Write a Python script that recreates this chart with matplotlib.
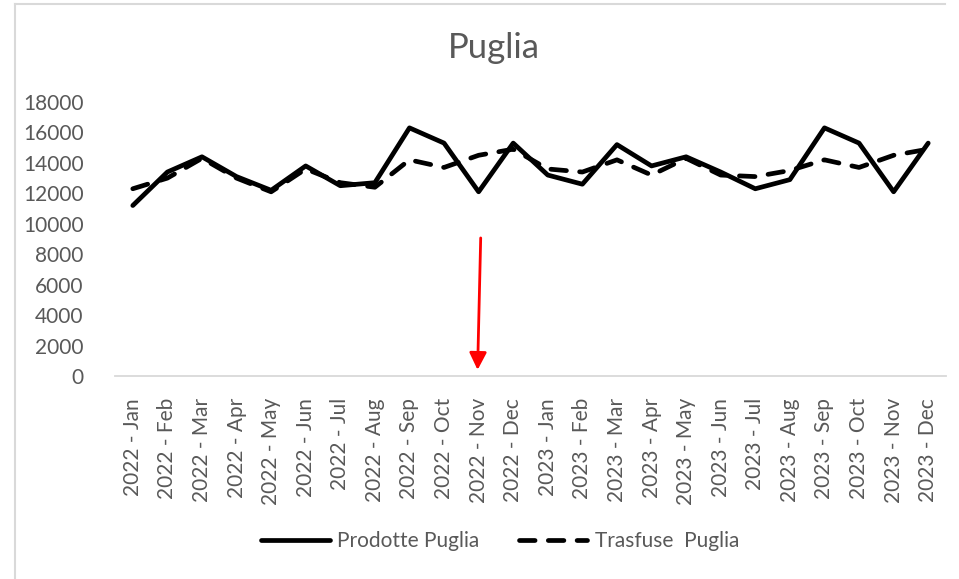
import matplotlib
matplotlib.use("Agg")
import matplotlib.pyplot as plt
from matplotlib.lines import Line2D

plt.rcParams['font.family'] = ['Lato', 'DejaVu Sans']

months = ["Jan", "Feb", "Mar", "Apr", "May", "Jun", "Jul", "Aug", "Sep", "Oct", "Nov", "Dec"]
categories = [f"{y} - {m}" for y in (2022, 2023) for m in months]

prodotte = [11200, 13400, 14400, 13100, 12200, 13800, 12500, 12700, 16300, 15300, 12100, 15300,
            13200, 12600, 15200, 13800, 14400, 13400, 12300, 12900, 16300, 15300, 12100, 15300]
trasfuse = [12300, 13000, 14300, 13000, 12100, 13600, 12700, 12400, 14200, 13700, 14500, 14900,
            13600, 13400, 14200, 13200, 14300, 13200, 13100, 13500, 14200, 13700, 14500, 14900]
yticks = list(range(0, 18001, 2000))

grey = "#595959"
W, H = 959, 579
fig = plt.figure(figsize=(W / 100, H / 100), dpi=100)
ax = fig.add_axes([115.5 / W, 1 - 376 / H, (945.5 - 115.5) / W, (376 - 102) / H])

x = list(range(len(categories)))
ax.plot(x, prodotte, color="black", lw=3.4, solid_capstyle="round", solid_joinstyle="round",
        label="Prodotte Puglia")
ax.plot(x, trasfuse, color="black", lw=3.4, dashes=(3.3, 2.8), dash_capstyle="round",
        dash_joinstyle="round", label="Trasfuse  Puglia")

ax.set_xlim(-0.5, len(categories) - 0.5)
ax.set_ylim(0, 18000)
ax.set_yticks(yticks)
ax.set_yticklabels([str(v) for v in yticks])
ax.set_xticks(x)
ax.set_xticklabels(categories, rotation=90)
ax.tick_params(axis="both", length=0, labelsize=15, colors=grey)
ax.tick_params(axis="y", pad=23)
ax.tick_params(axis="x", pad=16)
for s in ("top", "right", "left"):
    ax.spines[s].set_visible(False)
ax.spines["bottom"].set_color("#D9D9D9")
ax.spines["bottom"].set_linewidth(1.3)

ax.annotate("", xy=(9.97, 400), xytext=(10.06, 9070),
            arrowprops=dict(arrowstyle="-|>", color="red", lw=2, mutation_scale=26,
                            shrinkA=0, shrinkB=0))

fig.text(494 / W, 1 - 48 / H, "Puglia", ha="center", va="center", fontsize=25, color=grey)

leg = fig.legend(loc="center", bbox_to_anchor=(500 / W, 1 - 541 / H), ncol=2, frameon=False,
                 fontsize=15, handlelength=3.3, columnspacing=1.9, handletextpad=0.35)
for t in leg.get_texts():
    t.set_color(grey)

# frame remnants of the screenshot
fig.add_artist(Line2D([15 / W, 15 / W], [0, 1 - 4 / H], transform=fig.transFigure, color="#D9D9D9", lw=1.5))
fig.add_artist(Line2D([15 / W, 945 / W], [1 - 4 / H, 1 - 4 / H], transform=fig.transFigure, color="#D9D9D9", lw=1.5))

fig.savefig("out.png", dpi=100)
